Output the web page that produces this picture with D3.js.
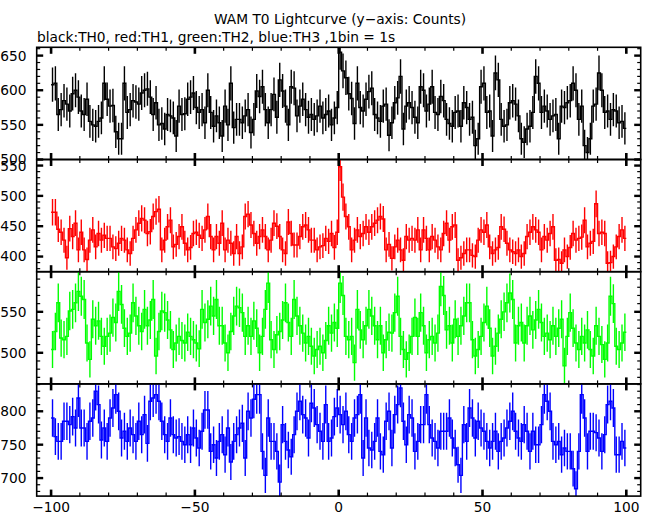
<!DOCTYPE html>
<html><head><meta charset="utf-8">
<script src="https://cdn.jsdelivr.net/npm/d3@7"></script>
<style>
html,body{margin:0;padding:0;background:#fff;}
svg{display:block;}
text{font-family:"DejaVu Sans",sans-serif;fill:#000;}
</style></head>
<body>
<svg id="chart" width="653" height="515"></svg>
<script>
// ---- data (counts per 1 s bin, bins from -100 s to +100 s) ----
const binStart = -100;
const binSize = 1;
const title = "WAM T0 Lightcurve (y\u2212axis: Counts)";
const subtitle = "black:TH0, red:TH1, green:TH2, blue:TH3 ,1bin = 1s";
const xTickMajor = [-100, -50, 0, 50, 100];

const th0 = [
608,610,565,572,585,580,570,595,600,590,
570,565,587,555,550,548,555,560,610,587,
577,578,540,530,530,610,568,572,585,583,
580,596,600,602,590,565,582,550,552,544,
565,563,560,534,577,565,566,587,590,596,
575,568,572,553,600,568,548,563,553,534,
577,550,610,546,558,558,553,563,572,539,
558,599,591,605,572,553,572,594,561,615,
599,577,550,605,603,563,577,587,572,561,
565,558,563,577,560,565,570,550,560,575,
655,628,618,595,588,552,610,575,570,587,
598,603,565,560,555,577,580,535,553,582,
589,620,544,577,582,575,561,553,605,600,
570,580,605,568,565,591,585,558,552,548,
568,570,548,582,575,558,561,520,530,605,
610,568,570,534,625,615,558,548,550,582,
585,580,563,530,525,544,548,568,620,610,
568,577,570,558,563,565,530,577,575,582,
585,610,600,558,577,520,510,530,577,580,
625,600,568,570,558,572,570,553,555,545];

const th1 = [
473,473,445,440,427,398,446,433,455,411,
440,411,395,427,444,416,438,427,435,430,
430,416,413,422,430,427,411,405,430,444,
455,463,460,438,441,466,474,478,411,427,
449,460,416,420,433,449,422,411,415,438,
440,435,430,444,466,433,411,433,422,455,
411,427,422,405,433,405,416,466,470,452,
438,422,433,444,433,411,427,455,450,433,
411,405,457,438,419,419,433,449,452,444,
427,427,411,416,418,430,425,438,415,440,
548,498,466,449,411,427,444,433,438,449,
440,449,455,460,466,462,411,420,397,416,
427,411,394,433,427,430,427,444,411,444,
430,411,433,427,416,411,438,455,427,449,
452,394,398,405,411,411,402,400,427,444,
440,452,416,405,411,415,449,445,422,411,
408,405,411,400,405,433,440,449,444,440,
411,433,427,438,449,394,395,389,411,400,
415,438,427,430,432,460,416,422,425,487,
438,440,438,389,390,400,416,433,444,430];

const th2 = [
504,526,561,518,516,520,551,553,561,575,
569,565,512,492,541,533,539,520,508,520,
524,543,537,575,559,530,520,524,561,545,
533,526,553,533,540,565,496,526,551,549,
540,528,504,512,520,515,512,525,520,516,
512,505,553,537,541,557,545,565,533,533,
512,500,526,545,557,555,549,520,533,520,
539,530,500,520,553,585,516,504,522,526,
540,561,537,520,565,545,533,524,512,520,
508,496,504,508,500,515,533,524,537,530,
585,570,520,516,520,488,553,528,516,533,
553,545,533,516,533,500,516,525,524,549,
569,520,504,492,500,520,543,520,549,533,
500,516,520,512,524,581,570,528,533,512,
541,520,533,545,561,561,516,496,504,520,
537,557,530,496,508,524,541,550,561,573,
565,512,533,537,512,533,545,528,540,553,
537,520,524,516,533,520,530,541,484,520,
549,530,512,504,520,512,528,504,496,533,
520,510,492,512,569,560,508,504,512,525];

const th3 = [
790,762,755,755,785,785,780,792,775,820,
775,775,755,785,790,830,810,757,775,755,
790,805,825,800,760,770,755,775,765,755,
785,765,795,752,815,820,825,815,785,765,
755,790,765,760,762,755,750,765,750,775,
760,745,770,802,802,740,750,730,755,765,
735,775,724,755,765,775,782,730,800,790,
818,825,825,740,704,790,755,755,740,694,
780,755,742,732,765,800,815,795,790,760,
812,805,780,770,755,810,755,760,792,805,
795,780,800,765,755,790,795,825,730,790,
745,742,755,790,740,735,785,800,745,795,
810,835,785,750,795,790,740,755,780,780,
825,780,760,755,745,770,770,770,790,760,
745,720,704,780,755,805,790,760,785,775,
770,755,745,755,770,740,755,760,775,785,
800,770,760,755,780,770,740,770,750,750,
780,825,815,800,755,750,755,735,745,740,
740,714,684,740,825,790,740,770,770,768,
760,740,765,810,815,805,735,735,755,745];

const panelNames = ["TH0", "TH1", "TH2", "TH3"];
const panelColors = ["#000000", "#ff0000", "#00ff00", "#0000ff"];
const panelDomains = [[500, 662], [375, 560], [462, 599], [673, 841]];
const panelMajor = [[500, 550, 600, 650], [400, 450, 500, 550], [500, 550], [700, 750, 800]];
const series = [th0, th1, th2, th3];

// ---- layout ----
const svg = d3.select("#chart");
const left = 36.7, right = 640.7, top0 = 47.3, panelH = 112.2;
const x = d3.scaleLinear().domain([-105, 105]).range([left, right]);
const FS = "13.75px";

svg.append("text").attr("x", 340).attr("y", 24).attr("text-anchor", "middle")
  .style("font-size", FS).text(title);
svg.append("text").attr("x", 37).attr("y", 42).attr("text-anchor", "start")
  .style("font-size", FS).text(subtitle);

const xMinor = d3.range(-100, 101, 10);

series.forEach((vals, p) => {
  const y0 = top0 + p * panelH, y1 = y0 + panelH;
  const dom = panelDomains[p];
  const y = d3.scaleLinear().domain(dom).range([y1, y0]);
  const g = svg.append("g");
  const clipId = "clip" + p;
  svg.append("clipPath").attr("id", clipId).append("rect")
    .attr("x", left).attr("y", y0).attr("width", right - left).attr("height", panelH);

  const dg = g.append("g").attr("clip-path", `url(#${clipId})`);
  const bins = vals.map((v, i) => ({ t0: binStart + i * binSize, c: binStart + (i + 0.5) * binSize, v: v, e: Math.sqrt(v) }));
  const stepPts = bins.map(b => [b.t0, b.v]);
  stepPts.push([bins[bins.length - 1].t0 + binSize, bins[bins.length - 1].v]);
  const line = d3.line().x(d => x(d[0])).y(d => y(d[1])).curve(d3.curveStepAfter);
  dg.append("path").attr("d", line(stepPts)).attr("fill", "none")
    .attr("stroke", panelColors[p]).attr("stroke-width", 1.4);
  dg.selectAll("line.err").data(bins).join("line").attr("class", "err")
    .attr("x1", d => x(d.c)).attr("x2", d => x(d.c))
    .attr("y1", d => y(d.v - d.e)).attr("y2", d => y(d.v + d.e))
    .attr("stroke", panelColors[p]).attr("stroke-width", 1.4);

  // frame
  g.append("rect").attr("x", left).attr("y", y0).attr("width", right - left).attr("height", panelH)
    .attr("fill", "none").attr("stroke", "#000").attr("stroke-width", 1.6);

  // x ticks top and bottom (inward)
  xMinor.forEach(t => {
    const maj = xTickMajor.includes(t);
    const L = maj ? 6.5 : 3.5, sw = maj ? 2.6 : 1.2;
    g.append("line").attr("x1", x(t)).attr("x2", x(t)).attr("y1", y0).attr("y2", y0 + L)
      .attr("stroke", "#000").attr("stroke-width", sw);
    g.append("line").attr("x1", x(t)).attr("x2", x(t)).attr("y1", y1).attr("y2", y1 - L)
      .attr("stroke", "#000").attr("stroke-width", sw);
  });
  // y ticks left and right (inward)
  const yMinor = d3.range(Math.ceil(dom[0] / 10) * 10, dom[1] + 0.01, 10);
  yMinor.forEach(v => {
    const maj = panelMajor[p].includes(v);
    const L = maj ? 6.5 : 3.5, sw = maj ? 2.4 : 1.2;
    g.append("line").attr("x1", left).attr("x2", left + L).attr("y1", y(v)).attr("y2", y(v))
      .attr("stroke", "#000").attr("stroke-width", sw);
    g.append("line").attr("x1", right).attr("x2", right - L).attr("y1", y(v)).attr("y2", y(v))
      .attr("stroke", "#000").attr("stroke-width", sw);
  });
  // y labels
  panelMajor[p].forEach(v => {
    svg.append("text").attr("x", 26.5).attr("y", y(v)).attr("dy", "0.36em")
      .attr("text-anchor", "end").style("font-size", FS).text(d3.format("d")(v));
  });
});

// x labels under last panel
const xfmt = d3.format("d");
xTickMajor.forEach(t => {
  svg.append("text").attr("x", x(t)).attr("y", 512.3).attr("text-anchor", "middle")
    .style("font-size", FS).text(xfmt(t));
});
</script>
</body></html>
